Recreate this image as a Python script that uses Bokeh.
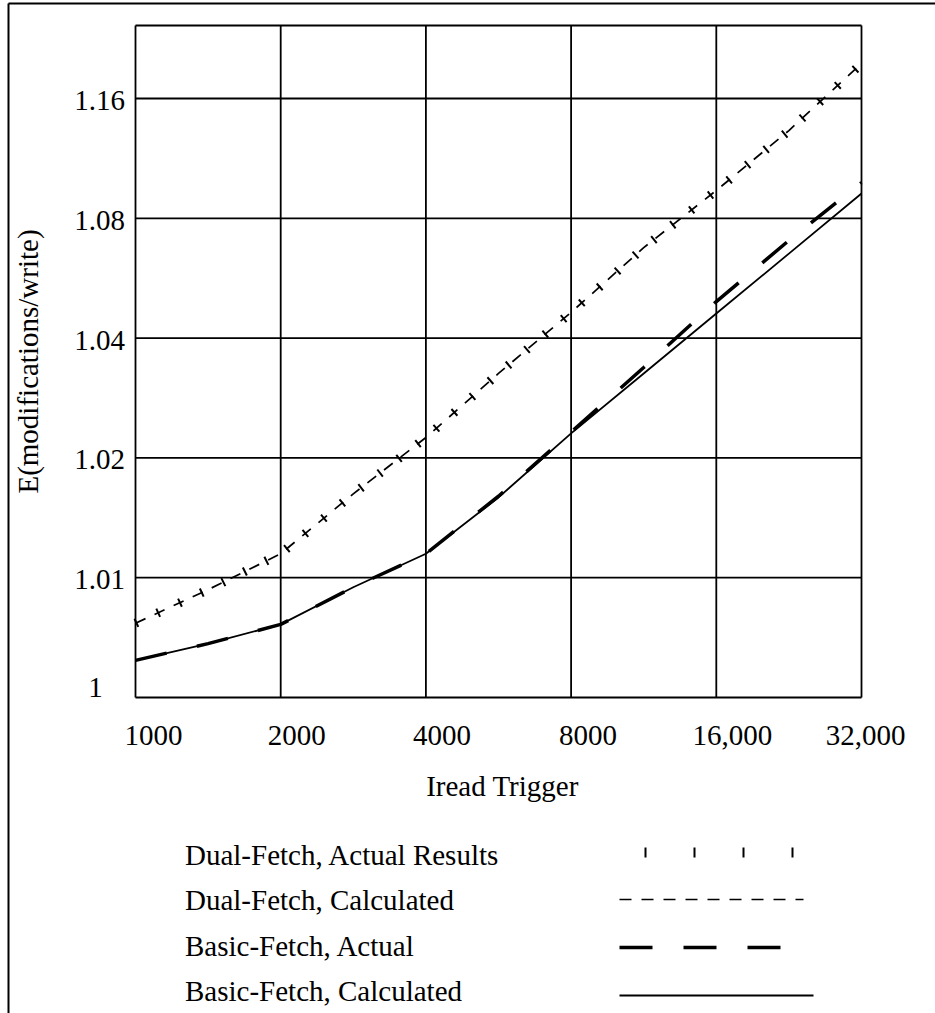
import numpy as np
from bokeh.plotting import figure
from bokeh.models import Range1d
from bokeh.core.properties import value
from bokeh.embed import file_html
from bokeh.resources import INLINE

# ---------------- data ----------------
X_VALUES = [1000, 1414, 2000, 2828, 4000, 5657, 8000, 11314, 16000, 22627, 32000]
DUAL_ACTUAL = [1.0062, 1.0090, 1.0120, 1.0170, 1.0234, 1.0341, 1.0486, 1.0702, 1.0986, 1.1386, 1.2067]
DUAL_CALC = [1.0062, 1.0090, 1.0120, 1.0170, 1.0234, 1.0341, 1.0486, 1.0702, 1.0986, 1.1386, 1.2067]
BASIC_ACTUAL = [1.0031, 1.0045, 1.0061, 1.0092, 1.0120, 1.0168, 1.0243, 1.0351, 1.0522, 1.0726, 1.1039]
BASIC_CALC = [1.0031, 1.0045, 1.0061, 1.0092, 1.0120, 1.0167, 1.0241, 1.0341, 1.0482, 1.0682, 1.0966]

X_TICKS = [1000, 2000, 4000, 8000, 16000, 32000]
X_TICK_LABELS = ["1000", "2000", "4000", "8000", "16,000", "32,000"]
Y_TICKS = [1, 1.01, 1.02, 1.04, 1.08, 1.16]
Y_TICK_LABELS = ["1", "1.01", "1.02", "1.04", "1.08", "1.16"]
SERIES_NAMES = ["Dual-Fetch, Actual Results", "Dual-Fetch, Calculated",
                "Basic-Fetch, Actual", "Basic-Fetch, Calculated"]
X_TITLE = "Iread Trigger"
Y_TITLE = "E(modifications/write)"

# ---------------- y scale: each tick is one equal step (increments double) ----
Y_KNOTS = Y_TICKS + [1.32]


def ymap(vals):
    return list(np.interp(vals, Y_KNOTS, np.arange(len(Y_KNOTS))))


# ---------------- layout (canvas pixels) ----------------
W, H = 935, 1013
FX0, FX1 = 135, 861      # plot area left/right
FY0, FY1 = 25, 697       # plot area top/bottom
OCT = (FX1 - FX0) / 5.0  # pixels per doubling of x
STEP = 119.8             # pixels per y tick step
TSH = -10                # correction for where the renderer puts the text baseline


def dx(px):
    return X_TICKS[0] * 2 ** ((px - FX0) / OCT)


def dy(py):
    return (FY1 - py) / STEP


def ty(py):
    return dy(py + TSH)


FONT = value("Liberation Serif")
FS = value("29px")

p = figure(width=W, height=H, x_axis_type="log",
           x_axis_location=None, y_axis_location=None,
           x_range=Range1d(dx(0), dx(W)), y_range=Range1d(dy(H), dy(0)),
           output_backend="svg", toolbar_location=None, min_border=0)
p.outline_line_color = None
p.background_fill_color = "white"
p.border_fill_color = "white"
p.grid.visible = False

y_top = dy(FY0)
y_idx = list(range(len(Y_TICKS)))

# grid + plot box
p.segment(x0=X_TICKS, x1=X_TICKS, y0=[0] * len(X_TICKS), y1=[y_top] * len(X_TICKS),
          line_color="black", line_width=1.8)
p.segment(x0=[X_TICKS[0]] * (len(y_idx) + 1), x1=[X_TICKS[-1]] * (len(y_idx) + 1),
          y0=y_idx + [y_top], y1=y_idx + [y_top], line_color="black", line_width=1.8)

# series
p.line(X_VALUES, ymap(BASIC_CALC), line_color="black", line_width=1.8)
p.line(X_VALUES, ymap(BASIC_ACTUAL), line_color="black", line_width=3.5,
       line_dash="32 31", line_cap="butt")
p.line(X_VALUES, ymap(DUAL_CALC), line_color="black", line_width=1.7,
       line_dash="11 10", line_cap="butt")
p.line(X_VALUES, ymap(DUAL_ACTUAL), line_color="black", line_width=9,
       line_dash="2 22", line_cap="butt", line_join="miter")

# y tick labels (baseline a little below each grid line; "1" sits on the box bottom)
YL_BASE_OFF = [0, 12, 12, 12, 12, 12]
YL_CX = [95, 99, 99, 99, 99, 99]
p.text(x=[dx(c) for c in YL_CX],
       y=[ty(FY1 - i * STEP + o) for i, o in zip(y_idx, YL_BASE_OFF)],
       text=Y_TICK_LABELS, text_align="center", text_baseline="alphabetic",
       text_font=FONT, text_font_size=FS, text_color="black")

# x tick labels (set a little to the right of their grid lines)
XL_OFF = [18, 16, 16, 17, 16, 4]
p.text(x=[t * 2 ** (o / OCT) for t, o in zip(X_TICKS, XL_OFF)], y=[ty(745)] * len(X_TICKS),
       text=X_TICK_LABELS, text_align="center", text_baseline="alphabetic",
       text_font=FONT, text_font_size=FS, text_color="black")

# axis titles
p.text(x=[dx(502)], y=[ty(795)], text=[X_TITLE], text_align="center",
       text_baseline="alphabetic", text_font=FONT, text_font_size=FS, text_color="black")
p.text(x=[dx(37 + TSH)], y=[dy(361)], text=[Y_TITLE], text_align="center", angle=np.pi / 2,
       text_baseline="alphabetic", text_font=FONT, text_font_size=FS, text_color="black")

# legend (labels on the left, line samples on the right)
LEG_BASE = [864, 909, 955, 1000]
p.text(x=[dx(184.5)] * 4, y=[ty(b) for b in LEG_BASE], text=SERIES_NAMES,
       text_align="left", text_baseline="alphabetic", text_font=FONT,
       text_font_size=FS, text_color="black")

leg_samples = [
    dict(x0=644, x1=800, y=852, line_width=10, line_dash="2 47"),
    dict(x0=619, x1=803, y=899, line_width=1.7, line_dash="12 10"),
    dict(x0=619, x1=782, y=947, line_width=3.5, line_dash="33 31"),
    dict(x0=619, x1=813, y=995, line_width=2, line_dash="solid"),
]
for s in leg_samples:
    p.line([dx(s["x0"]), dx(s["x1"])], [dy(s["y"]), dy(s["y"])], line_color="black",
           line_width=s["line_width"], line_dash=s["line_dash"], line_cap="butt")

# outer page border (left and top edges)
p.segment(x0=[dx(8), dx(8)], y0=[dy(3), dy(3)], x1=[dx(8), dx(W)], y1=[dy(H), dy(3)],
          line_color="black", line_width=2)

open("out.html", "w").write(file_html(p, INLINE))
